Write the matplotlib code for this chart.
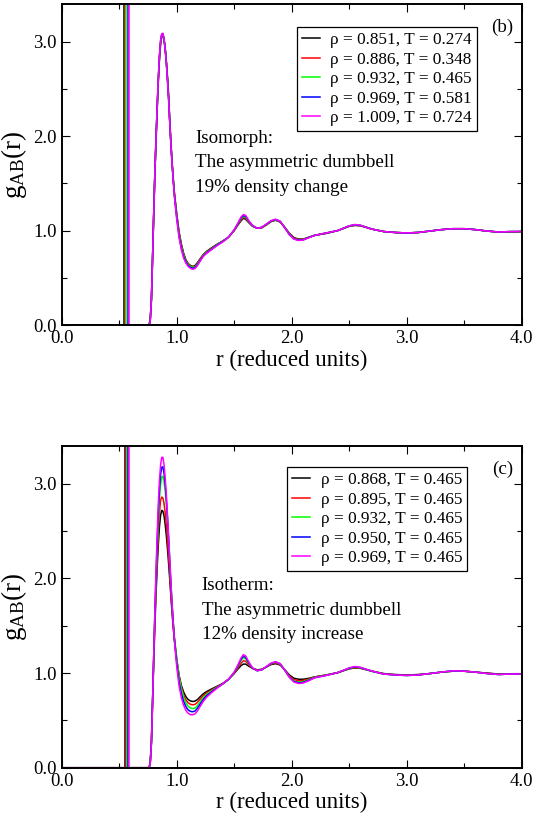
import matplotlib
matplotlib.use("Agg")
import matplotlib.pyplot as plt
from matplotlib.ticker import MultipleLocator, FormatStrFormatter

plt.rcParams['font.family'] = ['Liberation Serif', 'DejaVu Serif']
plt.rcParams['mathtext.fontset'] = 'custom'
plt.rcParams['mathtext.rm'] = 'Liberation Serif'
plt.rcParams['mathtext.it'] = 'Liberation Serif:italic'

# ---------------- data ----------------
r = [0.00, 0.74, 0.76, 0.77, 0.78, 0.79, 0.80, 0.81, 0.82, 0.83, 0.84, 0.85, 0.86, 0.87, 0.88, 0.89, 0.90, 0.91, 0.92, 0.93, 0.94, 0.95, 0.96, 0.97, 0.98,
     1.00, 1.02, 1.04, 1.06, 1.08, 1.10, 1.12, 1.14, 1.16, 1.18, 1.20,
     1.23, 1.26, 1.30, 1.35, 1.40, 1.45, 1.50, 1.53, 1.56, 1.58, 1.60, 1.63, 1.66, 1.70, 1.74, 1.78, 1.82, 1.86, 1.90, 1.94, 1.98, 2.02, 2.06, 2.10, 2.15, 2.20,
     2.30, 2.40, 2.50, 2.55, 2.60, 2.70, 2.80, 2.90, 3.00, 3.10, 3.20, 3.30, 3.40, 3.50, 3.60, 3.70, 3.80, 3.90, 4.00]

# panel (b): isomorph
iso_labels = ["ρ = 0.851, T = 0.274", "ρ = 0.886, T = 0.348", "ρ = 0.932, T = 0.465",
              "ρ = 0.969, T = 0.581", "ρ = 1.009, T = 0.724"]
iso_bond = [0.545, 0.554, 0.563, 0.574, 0.588]
iso_g1 = [0, 0, 0, 0.06, 0.28, 0.72, 1.18, 1.60, 1.95, 2.28, 2.58, 2.82, 2.98, 3.06, 3.07, 3.02, 2.93, 2.79, 2.62, 2.42, 2.15, 1.92, 1.72, 1.55, 1.40,
          1.18, 0.99, 0.86, 0.76, 0.69, 0.65, 0.63, 0.62, 0.63, 0.66, 0.695,
          0.745, 0.78, 0.815, 0.855, 0.89, 0.93, 1.00, 1.055, 1.105, 1.13, 1.12, 1.08, 1.045, 1.025, 1.03, 1.06, 1.095, 1.11, 1.09, 1.035, 0.97, 0.925, 0.91, 0.91, 0.93, 0.95,
          0.97, 1.00, 1.045, 1.055, 1.05, 1.015, 0.99, 0.98, 0.975, 0.98, 0.995, 1.01, 1.02, 1.02, 1.01, 0.995, 0.985, 0.985, 0.99]
iso_g2 = [0, 0, 0, 0.06, 0.275, 0.715, 1.18, 1.605, 1.96, 2.29, 2.59, 2.83, 2.99, 3.07, 3.075, 3.02, 2.925, 2.785, 2.61, 2.41, 2.145, 1.915, 1.715, 1.545, 1.39,
          1.17, 0.975, 0.845, 0.75, 0.68, 0.645, 0.625, 0.615, 0.62, 0.65, 0.69,
          0.74, 0.775, 0.81, 0.85, 0.888, 0.93, 1.00, 1.06, 1.115, 1.14, 1.13, 1.085, 1.048, 1.025, 1.032, 1.062, 1.098, 1.112, 1.092, 1.032, 0.965, 0.92, 0.905, 0.908, 0.93, 0.95,
          0.972, 1.00, 1.048, 1.058, 1.052, 1.015, 0.99, 0.98, 0.975, 0.98, 0.995, 1.01, 1.02, 1.02, 1.01, 0.995, 0.985, 0.988, 0.99]
iso_g3 = [0, 0, 0, 0.06, 0.27, 0.71, 1.18, 1.61, 1.97, 2.30, 2.60, 2.84, 3.00, 3.075, 3.08, 3.02, 2.92, 2.78, 2.60, 2.40, 2.14, 1.91, 1.71, 1.54, 1.38,
          1.16, 0.96, 0.83, 0.74, 0.675, 0.64, 0.62, 0.61, 0.615, 0.645, 0.68,
          0.735, 0.77, 0.805, 0.85, 0.885, 0.93, 1.005, 1.065, 1.125, 1.15, 1.14, 1.09, 1.05, 1.025, 1.035, 1.065, 1.10, 1.115, 1.095, 1.03, 0.96, 0.915, 0.90, 0.905, 0.93, 0.95,
          0.975, 1.00, 1.05, 1.06, 1.055, 1.015, 0.99, 0.98, 0.975, 0.98, 0.995, 1.01, 1.02, 1.02, 1.01, 0.995, 0.985, 0.99, 0.99]
iso_g4 = [0, 0, 0, 0.055, 0.265, 0.705, 1.175, 1.61, 1.975, 2.31, 2.61, 2.85, 3.01, 3.08, 3.085, 3.025, 2.92, 2.775, 2.59, 2.385, 2.135, 1.905, 1.705, 1.53, 1.37,
          1.14, 0.945, 0.815, 0.725, 0.665, 0.63, 0.61, 0.60, 0.607, 0.637, 0.675,
          0.73, 0.765, 0.80, 0.845, 0.882, 0.93, 1.008, 1.07, 1.135, 1.16, 1.15, 1.095, 1.052, 1.025, 1.035, 1.068, 1.102, 1.118, 1.098, 1.03, 0.958, 0.912, 0.898, 0.902, 0.928, 0.95,
          0.975, 1.00, 1.05, 1.062, 1.055, 1.015, 0.99, 0.98, 0.975, 0.98, 0.995, 1.01, 1.02, 1.02, 1.01, 0.995, 0.985, 0.99, 0.99]
iso_g5 = [0, 0, 0, 0.05, 0.26, 0.70, 1.17, 1.61, 1.98, 2.32, 2.62, 2.86, 3.02, 3.085, 3.09, 3.03, 2.92, 2.77, 2.58, 2.37, 2.13, 1.90, 1.70, 1.52, 1.36,
          1.12, 0.93, 0.80, 0.71, 0.655, 0.62, 0.60, 0.59, 0.60, 0.63, 0.67,
          0.725, 0.76, 0.795, 0.84, 0.88, 0.93, 1.01, 1.075, 1.145, 1.17, 1.16, 1.10, 1.055, 1.025, 1.035, 1.07, 1.105, 1.12, 1.10, 1.03, 0.955, 0.91, 0.895, 0.90, 0.925, 0.95,
          0.975, 1.00, 1.05, 1.065, 1.055, 1.015, 0.99, 0.98, 0.975, 0.98, 0.995, 1.01, 1.02, 1.02, 1.01, 0.995, 0.985, 0.99, 0.99]

# panel (c): isotherm
ist_labels = ["ρ = 0.868, T = 0.465", "ρ = 0.895, T = 0.465", "ρ = 0.932, T = 0.465",
              "ρ = 0.950, T = 0.465", "ρ = 0.969, T = 0.465"]
ist_bond = [0.549, 0.555, 0.568, 0.576, 0.582]
ist_g1 = [0, 0, 0, 0.06, 0.28, 0.70, 1.12, 1.50, 1.83, 2.12, 2.36, 2.55, 2.67, 2.72, 2.71, 2.66, 2.57, 2.45, 2.31, 2.15, 1.98, 1.80, 1.63, 1.48, 1.35,
          1.14, 0.98, 0.87, 0.80, 0.75, 0.72, 0.705, 0.70, 0.705, 0.72, 0.745,
          0.78, 0.805, 0.83, 0.86, 0.89, 0.935, 0.995, 1.04, 1.08, 1.095, 1.095, 1.07, 1.05, 1.035, 1.04, 1.065, 1.09, 1.10, 1.085, 1.035, 0.98, 0.945, 0.935, 0.935, 0.945, 0.96,
          0.98, 1.005, 1.045, 1.055, 1.05, 1.02, 0.995, 0.985, 0.98, 0.985, 0.995, 1.01, 1.02, 1.02, 1.01, 1.00, 0.99, 0.99, 0.99]
ist_g2 = [0, 0, 0, 0.06, 0.275, 0.705, 1.15, 1.56, 1.90, 2.21, 2.48, 2.70, 2.83, 2.86, 2.85, 2.79, 2.69, 2.56, 2.40, 2.22, 2.03, 1.84, 1.66, 1.50, 1.36,
          1.15, 0.97, 0.85, 0.77, 0.715, 0.685, 0.67, 0.665, 0.67, 0.69, 0.72,
          0.76, 0.79, 0.82, 0.855, 0.888, 0.933, 1.00, 1.052, 1.105, 1.13, 1.125, 1.082, 1.05, 1.03, 1.038, 1.065, 1.095, 1.108, 1.09, 1.032, 0.97, 0.93, 0.92, 0.922, 0.938, 0.958,
          0.98, 1.005, 1.048, 1.058, 1.052, 1.02, 0.992, 0.982, 0.978, 0.982, 0.995, 1.01, 1.02, 1.02, 1.01, 0.998, 0.988, 0.99, 0.99]
ist_g3 = [0, 0, 0, 0.06, 0.27, 0.71, 1.18, 1.61, 1.97, 2.30, 2.60, 2.84, 3.00, 3.075, 3.08, 3.02, 2.92, 2.78, 2.60, 2.40, 2.14, 1.91, 1.71, 1.54, 1.38,
          1.16, 0.96, 0.835, 0.745, 0.685, 0.65, 0.63, 0.625, 0.63, 0.655, 0.69,
          0.74, 0.775, 0.81, 0.85, 0.885, 0.93, 1.005, 1.065, 1.135, 1.165, 1.15, 1.095, 1.05, 1.025, 1.035, 1.065, 1.10, 1.115, 1.095, 1.03, 0.96, 0.915, 0.905, 0.91, 0.93, 0.955,
          0.978, 1.005, 1.05, 1.062, 1.055, 1.018, 0.99, 0.98, 0.975, 0.98, 0.995, 1.01, 1.022, 1.02, 1.01, 0.995, 0.985, 0.99, 0.99]
ist_g4 = [0, 0, 0, 0.055, 0.26, 0.695, 1.18, 1.63, 2.02, 2.38, 2.70, 2.94, 3.10, 3.175, 3.18, 3.11, 2.99, 2.83, 2.63, 2.41, 2.16, 1.93, 1.715, 1.53, 1.36,
          1.11, 0.91, 0.785, 0.70, 0.645, 0.61, 0.595, 0.592, 0.60, 0.628, 0.665,
          0.72, 0.76, 0.80, 0.845, 0.885, 0.932, 1.008, 1.072, 1.148, 1.18, 1.165, 1.102, 1.052, 1.025, 1.035, 1.068, 1.102, 1.118, 1.098, 1.03, 0.958, 0.91, 0.898, 0.902, 0.925, 0.952,
          0.976, 1.005, 1.052, 1.066, 1.058, 1.019, 0.99, 0.98, 0.975, 0.98, 0.995, 1.01, 1.024, 1.02, 1.01, 0.995, 0.985, 0.99, 0.99]
ist_g5 = [0, 0, 0, 0.05, 0.25, 0.68, 1.18, 1.65, 2.08, 2.46, 2.79, 3.04, 3.20, 3.28, 3.28, 3.20, 3.06, 2.88, 2.66, 2.43, 2.19, 1.95, 1.72, 1.52, 1.34,
          1.07, 0.87, 0.74, 0.66, 0.605, 0.575, 0.56, 0.56, 0.57, 0.60, 0.64,
          0.70, 0.745, 0.79, 0.84, 0.885, 0.935, 1.01, 1.08, 1.16, 1.195, 1.18, 1.11, 1.055, 1.025, 1.035, 1.07, 1.105, 1.12, 1.10, 1.03, 0.955, 0.905, 0.89, 0.895, 0.92, 0.95,
          0.975, 1.005, 1.055, 1.07, 1.06, 1.02, 0.99, 0.98, 0.975, 0.98, 0.995, 1.01, 1.025, 1.02, 1.01, 0.995, 0.985, 0.99, 0.99]

colors = ['#000000', '#ff0000', '#00ff00', '#0000ff', '#ff00ff']

panels = [
    dict(gs=[iso_g1, iso_g2, iso_g3, iso_g4, iso_g5], bond=iso_bond, labels=iso_labels,
         tag="(b)", text=["Isomorph:", "The asymmetric dumbbell", "19% density change"],
         rect=[0.1158, 0.6012, 0.8630, 0.3939], leg=(0.903, 0.928),
         tx=0.290, ty=[0.567, 0.492, 0.415], tagy=0.914),
    dict(gs=[ist_g1, ist_g2, ist_g3, ist_g4, ist_g5], bond=ist_bond, labels=ist_labels,
         tag="(c)", text=["Isotherm:", "The asymmetric dumbbell", "12% density increase"],
         rect=[0.1158, 0.0580, 0.8630, 0.3948], leg=(0.882, 0.935),
         tx=0.304, ty=[0.552, 0.475, 0.400], tagy=0.913),
]

fig = plt.figure(figsize=(5.33, 8.15), dpi=100)

for p in panels:
    ax = fig.add_axes(p['rect'])
    ax.set_xlim(0, 4)
    ax.set_ylim(0, 3.4)
    ytop = ax.get_ylim()[1]
    for g, b, c, lab in zip(p['gs'], p['bond'], colors, p['labels']):
        ax.plot(r, g, color=c, lw=1.1, label=lab)
        ax.vlines(b, 0, ytop, colors=c, lw=1.1)
    ax.xaxis.set_major_locator(MultipleLocator(1.0))
    ax.xaxis.set_minor_locator(MultipleLocator(0.5))
    ax.yaxis.set_major_locator(MultipleLocator(1.0))
    ax.yaxis.set_minor_locator(MultipleLocator(0.5))
    ax.xaxis.set_major_formatter(FormatStrFormatter('%.1f'))
    ax.yaxis.set_major_formatter(FormatStrFormatter('%.1f'))
    ax.tick_params(which='both', direction='in', top=True, right=True, labelsize=13.5, width=0.8)
    ax.tick_params(which='major', length=5.8, pad=3.5)
    ax.tick_params(which='minor', length=3.6)
    for s in ax.spines.values():
        s.set_linewidth(1.4)
    ax.set_xlabel("r (reduced units)", fontsize=16.5, labelpad=2)
    ax.set_ylabel(r"g$_{\rm AB}$(r)", fontsize=19.5, labelpad=3)
    leg = ax.legend(loc='upper right', bbox_to_anchor=p['leg'], borderaxespad=0,
                    fontsize=12.4, frameon=True, fancybox=False, framealpha=1,
                    edgecolor='black', handlelength=1.05, handletextpad=0.6,
                    labelspacing=0.2, borderpad=0.3)
    leg.get_frame().set_linewidth(0.9)
    for t, y in zip(p['text'], p['ty']):
        ax.text(p['tx'], y, t, transform=ax.transAxes, fontsize=13.7, va='baseline', ha='left')
    ax.text(0.981, p['tagy'], p['tag'], transform=ax.transAxes, fontsize=13.7, va='baseline', ha='right')

fig.savefig("out.png", dpi=100)
